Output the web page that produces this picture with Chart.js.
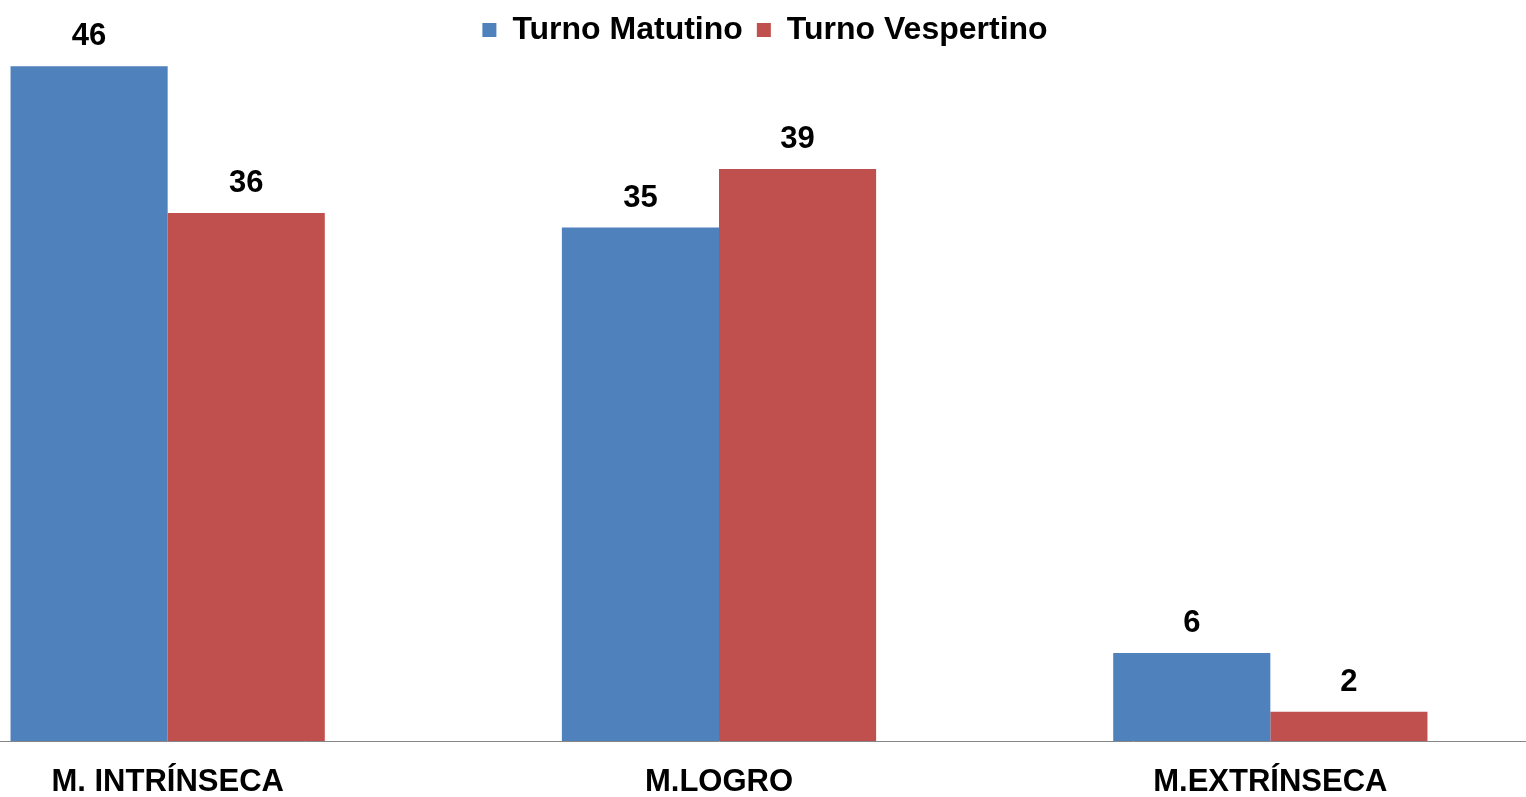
<!DOCTYPE html>
<html>
<head>
<meta charset="utf-8">
<script src="https://cdn.jsdelivr.net/npm/chart.js@4"></script>
<style>
html, body { margin: 0; padding: 0; background: #fff; overflow: hidden; }
#wrap { position: absolute; left: -108px; top: 0; width: 1746px; height: 797px; }
</style>
</head>
<body>
<div id="wrap"><canvas id="barChart"></canvas></div>
<script>
const categories = ["M. INTRÍNSECA", "M.LOGRO", "M.EXTRÍNSECA"];
const matutino = [46, 35, 6];
const vespertino = [36, 39, 2];
const seriesNames = ["Turno Matutino", "Turno Vespertino"];

const fontFamily = "'Liberation Sans', Arial, sans-serif";

// numbers above each bar
const valueLabels = {
  id: "valueLabels",
  afterDatasetsDraw(chart) {
    const ctx = chart.ctx;
    ctx.save();
    ctx.font = "bold 31px " + fontFamily;
    ctx.fillStyle = "#000";
    ctx.textAlign = "center";
    ctx.textBaseline = "alphabetic";
    chart.data.datasets.forEach((ds, i) => {
      chart.getDatasetMeta(i).data.forEach((bar, j) => {
        ctx.fillText(ds.data[j], bar.x, bar.y - 21);
      });
    });
    ctx.restore();
  }
};

new Chart(document.getElementById("barChart"), {
  type: "bar",
  data: {
    labels: categories,
    datasets: [{
      label: seriesNames[0],
      data: matutino,
      backgroundColor: "#4F81BD"
    }, {
      label: seriesNames[1],
      data: vespertino,
      backgroundColor: "#C0504D"
    }]
  },
  options: {
    responsive: true,
    maintainAspectRatio: false,
    animation: false,
    categoryPercentage: 0.57,
    barPercentage: 1,
    layout: { padding: 0 },
    plugins: {
      legend: {
        labels: {
          color: "#000",
          font: { family: fontFamily, size: 32, weight: "bold" },
          boxWidth: 14,
          boxHeight: 14,
          padding: 14
        }
      },
      tooltip: { enabled: false }
    },
    scales: {
      x: {
        grid: { display: false },
        border: { display: true, color: "#868686", width: 1 },
        ticks: { color: "#000", font: { family: fontFamily, size: 31, weight: "bold" }, padding: 15, maxRotation: 0 },
        afterFit(scale) { scale.height = 56; }
      },
      y: {
        position: "right",
        min: 0,
        max: 46.7,
        grid: { display: false },
        border: { display: false },
        ticks: { display: false },
        afterFit(scale) { scale.width = 92; }
      }
    }
  },
  plugins: [valueLabels]
});
</script>
</body>
</html>
